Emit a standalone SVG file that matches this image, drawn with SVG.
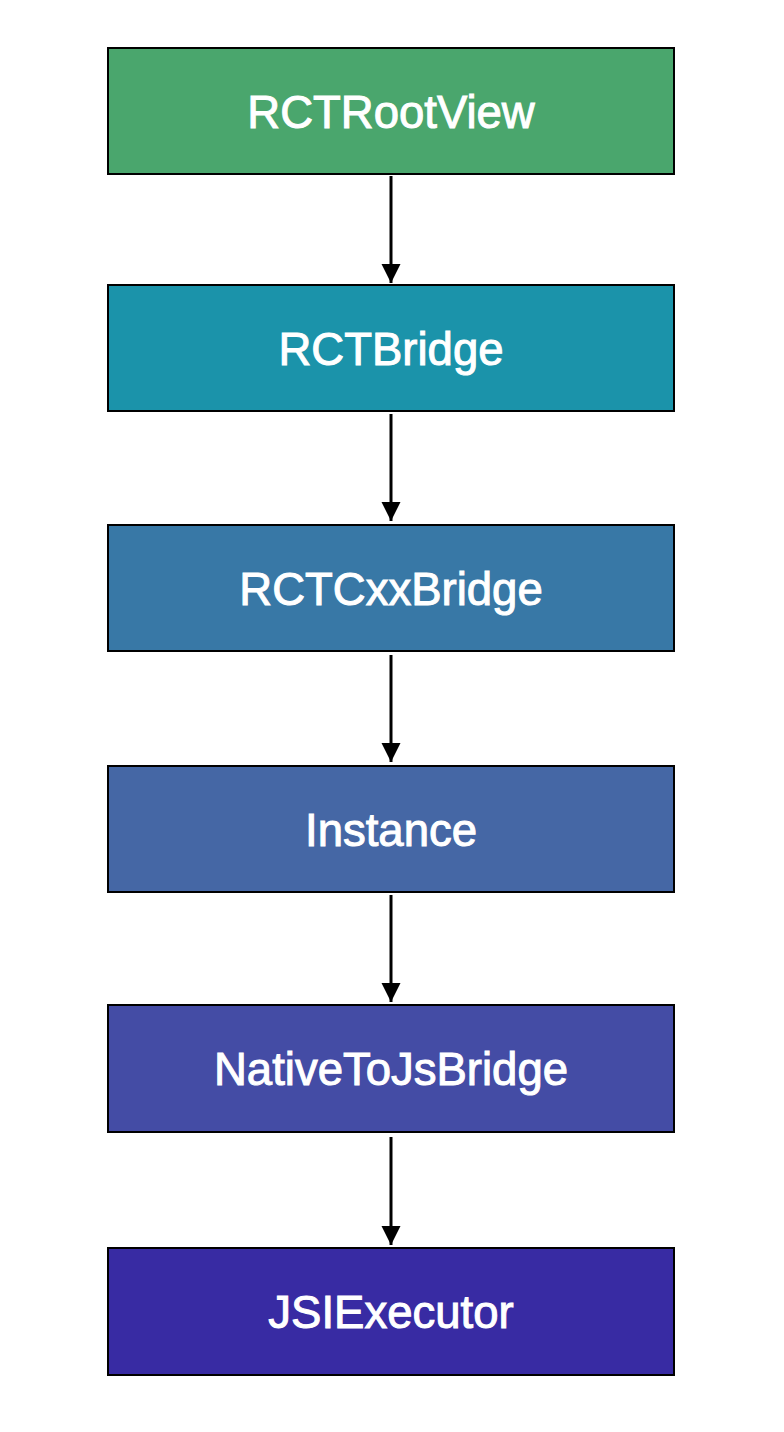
<svg xmlns="http://www.w3.org/2000/svg" width="784" height="1432" viewBox="0 0 784 1432">
<defs>
<style>
.box{stroke:#000;stroke-width:2}
.lbl{font-family:"Liberation Sans",Arial,sans-serif;font-size:45.5px;fill:#fff;stroke:#fff;stroke-width:1;text-anchor:middle}
.conn{stroke:#000;stroke-width:3;fill:none}
</style>
<marker id="ah" markerWidth="7" markerHeight="7" refX="6.5" refY="3.25" orient="auto" markerUnits="strokeWidth">
<path d="M0,0 L6.5,3.25 L0,6.5 Z" fill="#000"/>
</marker>
</defs>
<rect width="784" height="1432" fill="#fff"/>
<g id="n1"><rect class="box" x="108" y="48" width="566" height="126" fill="#4aa66d"/><text class="lbl" x="391" y="128">RCTRootView</text></g>
<g id="n2"><rect class="box" x="108" y="285" width="566" height="126" fill="#1b93aa"/><text class="lbl" x="391" y="365">RCTBridge</text></g>
<g id="n3"><rect class="box" x="108" y="525" width="566" height="126" fill="#3878a6"/><text class="lbl" x="391" y="605">RCTCxxBridge</text></g>
<g id="n4"><rect class="box" x="108" y="766" width="566" height="126" fill="#4567a5"/><text class="lbl" x="391" y="846">Instance</text></g>
<g id="n5"><rect class="box" x="108" y="1005" width="566" height="127" fill="#444ca5"/><text class="lbl" x="391" y="1085">NativeToJsBridge</text></g>
<g id="n6"><rect class="box" x="108" y="1248" width="566" height="127" fill="#382ba3"/><text class="lbl" x="391" y="1328">JSIExecutor</text></g>
<g id="connectors">
<line class="conn" x1="391" y1="176" x2="391" y2="283" marker-end="url(#ah)"/>
<line class="conn" x1="391" y1="414" x2="391" y2="521" marker-end="url(#ah)"/>
<line class="conn" x1="391" y1="655" x2="391" y2="762" marker-end="url(#ah)"/>
<line class="conn" x1="391" y1="895" x2="391" y2="1002" marker-end="url(#ah)"/>
<line class="conn" x1="391" y1="1137" x2="391" y2="1245" marker-end="url(#ah)"/>
</g>
</svg>
